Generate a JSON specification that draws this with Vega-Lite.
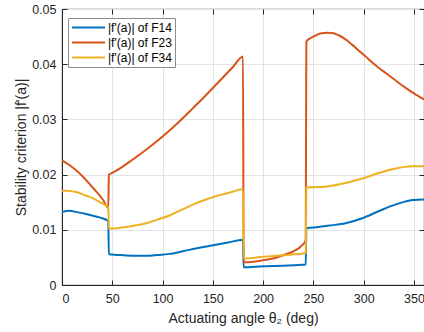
{
  "$schema": "https://vega.github.io/schema/vega-lite/v6.json",
  "width": 362,
  "height": 276,
  "autosize": {"type": "none"},
  "padding": {"left": 62, "top": 9, "right": 0, "bottom": 47},
  "background": "white",
  "config": {
    "font": "Liberation Sans",
    "view": {"stroke": "#262626", "strokeWidth": 0.8},
    "axis": {
      "domainColor": "#262626",
      "tickColor": "#262626",
      "labelColor": "#262626",
      "titleColor": "#262626",
      "gridColor": "#e3e3e3",
      "labelFontSize": 12.5,
      "titleFontSize": 14,
      "titleFontWeight": "normal",
      "tickSize": -5
    }
  },
  "data": {"values": [
    {"s": "|f'(a)| of F14", "x": 0, "y": 0.01323},
    {"s": "|f'(a)| of F14", "x": 7, "y": 0.01345},
    {"s": "|f'(a)| of F14", "x": 15, "y": 0.0132},
    {"s": "|f'(a)| of F14", "x": 24, "y": 0.01287},
    {"s": "|f'(a)| of F14", "x": 31, "y": 0.01255},
    {"s": "|f'(a)| of F14", "x": 38, "y": 0.0122},
    {"s": "|f'(a)| of F14", "x": 46, "y": 0.0116},
    {"s": "|f'(a)| of F14", "x": 46.6, "y": 0.00557},
    {"s": "|f'(a)| of F14", "x": 55, "y": 0.00545},
    {"s": "|f'(a)| of F14", "x": 64, "y": 0.00533},
    {"s": "|f'(a)| of F14", "x": 74, "y": 0.00528},
    {"s": "|f'(a)| of F14", "x": 84, "y": 0.00528},
    {"s": "|f'(a)| of F14", "x": 95, "y": 0.00542},
    {"s": "|f'(a)| of F14", "x": 107, "y": 0.00564},
    {"s": "|f'(a)| of F14", "x": 120, "y": 0.0061},
    {"s": "|f'(a)| of F14", "x": 133, "y": 0.00662},
    {"s": "|f'(a)| of F14", "x": 150, "y": 0.00722},
    {"s": "|f'(a)| of F14", "x": 165, "y": 0.0077},
    {"s": "|f'(a)| of F14", "x": 180, "y": 0.0082},
    {"s": "|f'(a)| of F14", "x": 180.6, "y": 0.0032},
    {"s": "|f'(a)| of F14", "x": 200, "y": 0.0034},
    {"s": "|f'(a)| of F14", "x": 220, "y": 0.0035},
    {"s": "|f'(a)| of F14", "x": 242.4, "y": 0.0037},
    {"s": "|f'(a)| of F14", "x": 243, "y": 0.0103},
    {"s": "|f'(a)| of F14", "x": 255, "y": 0.0105},
    {"s": "|f'(a)| of F14", "x": 265.6, "y": 0.01077},
    {"s": "|f'(a)| of F14", "x": 282, "y": 0.0112},
    {"s": "|f'(a)| of F14", "x": 298.7, "y": 0.0121},
    {"s": "|f'(a)| of F14", "x": 315.3, "y": 0.0134},
    {"s": "|f'(a)| of F14", "x": 332, "y": 0.0146},
    {"s": "|f'(a)| of F14", "x": 341, "y": 0.0151},
    {"s": "|f'(a)| of F14", "x": 348.3, "y": 0.0154},
    {"s": "|f'(a)| of F14", "x": 360, "y": 0.0155},

    {"s": "|f'(a)| of F23", "x": 0, "y": 0.02257},
    {"s": "|f'(a)| of F23", "x": 9, "y": 0.0215},
    {"s": "|f'(a)| of F23", "x": 17.6, "y": 0.0202},
    {"s": "|f'(a)| of F23", "x": 24, "y": 0.0190},
    {"s": "|f'(a)| of F23", "x": 30.8, "y": 0.0176},
    {"s": "|f'(a)| of F23", "x": 40.8, "y": 0.01544},
    {"s": "|f'(a)| of F23", "x": 46, "y": 0.0139},
    {"s": "|f'(a)| of F23", "x": 46.6, "y": 0.0200},
    {"s": "|f'(a)| of F23", "x": 50, "y": 0.0203},
    {"s": "|f'(a)| of F23", "x": 60, "y": 0.0214},
    {"s": "|f'(a)| of F23", "x": 70, "y": 0.0227},
    {"s": "|f'(a)| of F23", "x": 80, "y": 0.0240},
    {"s": "|f'(a)| of F23", "x": 90, "y": 0.0254},
    {"s": "|f'(a)| of F23", "x": 100, "y": 0.0269},
    {"s": "|f'(a)| of F23", "x": 110, "y": 0.0285},
    {"s": "|f'(a)| of F23", "x": 120, "y": 0.0302},
    {"s": "|f'(a)| of F23", "x": 130, "y": 0.0320},
    {"s": "|f'(a)| of F23", "x": 140, "y": 0.0338},
    {"s": "|f'(a)| of F23", "x": 150, "y": 0.0357},
    {"s": "|f'(a)| of F23", "x": 160, "y": 0.0376},
    {"s": "|f'(a)| of F23", "x": 170, "y": 0.0395},
    {"s": "|f'(a)| of F23", "x": 180, "y": 0.0414},
    {"s": "|f'(a)| of F23", "x": 180.6, "y": 0.0041},
    {"s": "|f'(a)| of F23", "x": 190, "y": 0.0042},
    {"s": "|f'(a)| of F23", "x": 200, "y": 0.0045},
    {"s": "|f'(a)| of F23", "x": 210, "y": 0.0048},
    {"s": "|f'(a)| of F23", "x": 220, "y": 0.0054},
    {"s": "|f'(a)| of F23", "x": 230, "y": 0.0061},
    {"s": "|f'(a)| of F23", "x": 237, "y": 0.0069},
    {"s": "|f'(a)| of F23", "x": 242.4, "y": 0.0081},
    {"s": "|f'(a)| of F23", "x": 243, "y": 0.0441},
    {"s": "|f'(a)| of F23", "x": 247, "y": 0.0447},
    {"s": "|f'(a)| of F23", "x": 252.4, "y": 0.0452},
    {"s": "|f'(a)| of F23", "x": 258, "y": 0.0456},
    {"s": "|f'(a)| of F23", "x": 264, "y": 0.0457},
    {"s": "|f'(a)| of F23", "x": 270, "y": 0.0456},
    {"s": "|f'(a)| of F23", "x": 275.6, "y": 0.0452},
    {"s": "|f'(a)| of F23", "x": 282, "y": 0.0445},
    {"s": "|f'(a)| of F23", "x": 288.8, "y": 0.0435},
    {"s": "|f'(a)| of F23", "x": 295, "y": 0.0425},
    {"s": "|f'(a)| of F23", "x": 302, "y": 0.0414},
    {"s": "|f'(a)| of F23", "x": 308.5, "y": 0.0403},
    {"s": "|f'(a)| of F23", "x": 315.3, "y": 0.0393},
    {"s": "|f'(a)| of F23", "x": 321.9, "y": 0.0384},
    {"s": "|f'(a)| of F23", "x": 328.5, "y": 0.0375},
    {"s": "|f'(a)| of F23", "x": 335, "y": 0.0366},
    {"s": "|f'(a)| of F23", "x": 341.8, "y": 0.0357},
    {"s": "|f'(a)| of F23", "x": 350, "y": 0.0347},
    {"s": "|f'(a)| of F23", "x": 360, "y": 0.0336},

    {"s": "|f'(a)| of F34", "x": 0, "y": 0.01706},
    {"s": "|f'(a)| of F34", "x": 7, "y": 0.01705},
    {"s": "|f'(a)| of F34", "x": 15, "y": 0.0168},
    {"s": "|f'(a)| of F34", "x": 24, "y": 0.01616},
    {"s": "|f'(a)| of F34", "x": 31, "y": 0.0157},
    {"s": "|f'(a)| of F34", "x": 37.5, "y": 0.0150},
    {"s": "|f'(a)| of F34", "x": 46, "y": 0.0140},
    {"s": "|f'(a)| of F34", "x": 46.6, "y": 0.01018},
    {"s": "|f'(a)| of F34", "x": 55, "y": 0.0103},
    {"s": "|f'(a)| of F34", "x": 64, "y": 0.0105},
    {"s": "|f'(a)| of F34", "x": 74, "y": 0.01082},
    {"s": "|f'(a)| of F34", "x": 84, "y": 0.0112},
    {"s": "|f'(a)| of F34", "x": 95, "y": 0.01185},
    {"s": "|f'(a)| of F34", "x": 107, "y": 0.0126},
    {"s": "|f'(a)| of F34", "x": 120, "y": 0.0137},
    {"s": "|f'(a)| of F34", "x": 133, "y": 0.0148},
    {"s": "|f'(a)| of F34", "x": 145, "y": 0.0156},
    {"s": "|f'(a)| of F34", "x": 157, "y": 0.0163},
    {"s": "|f'(a)| of F34", "x": 168, "y": 0.0168},
    {"s": "|f'(a)| of F34", "x": 180, "y": 0.0174},
    {"s": "|f'(a)| of F34", "x": 180.6, "y": 0.0048},
    {"s": "|f'(a)| of F34", "x": 200, "y": 0.0051},
    {"s": "|f'(a)| of F34", "x": 220, "y": 0.0054},
    {"s": "|f'(a)| of F34", "x": 242.4, "y": 0.0058},
    {"s": "|f'(a)| of F34", "x": 243, "y": 0.01767},
    {"s": "|f'(a)| of F34", "x": 255, "y": 0.01775},
    {"s": "|f'(a)| of F34", "x": 265.6, "y": 0.0179},
    {"s": "|f'(a)| of F34", "x": 282, "y": 0.01849},
    {"s": "|f'(a)| of F34", "x": 298.7, "y": 0.01928},
    {"s": "|f'(a)| of F34", "x": 315.3, "y": 0.0203},
    {"s": "|f'(a)| of F34", "x": 332, "y": 0.0211},
    {"s": "|f'(a)| of F34", "x": 341, "y": 0.0214},
    {"s": "|f'(a)| of F34", "x": 348.3, "y": 0.0215},
    {"s": "|f'(a)| of F34", "x": 360, "y": 0.0215}
  ]},
  "layer": [
    {
      "mark": {"type": "line", "strokeWidth": 2, "clip": true, "interpolate": "monotone"},
      "encoding": {
        "x": {
          "field": "x", "type": "quantitative",
          "scale": {"domain": [0, 360], "nice": false},
          "axis": {"values": [0, 50, 100, 150, 200, 250, 300, 350], "title": "Actuating angle θ₂ (deg)", "titlePadding": 7, "labelPadding": 12}
        },
        "y": {
          "field": "y", "type": "quantitative",
          "scale": {"domain": [0, 0.05], "nice": false},
          "axis": {"values": [0, 0.01, 0.02, 0.03, 0.04, 0.05], "format": "~g", "title": "Stability criterion |f'(a)|", "titlePadding": 3, "labelPadding": 11}
        },
        "color": {
          "field": "s", "type": "nominal",
          "scale": {"domain": ["|f'(a)| of F14", "|f'(a)| of F23", "|f'(a)| of F34"], "range": ["#0072BD", "#D95319", "#EDB120"]},
          "legend": {
            "title": null,
            "orient": "none",
            "legendX": 6,
            "legendY": 9,
            "fillColor": "white",
            "strokeColor": "#8c8c8c",
            "padding": 3,
            "symbolType": "M-1,0H5",
            "symbolSize": 121,
            "symbolStrokeWidth": 2,
            "labelFontSize": 12,
            "labelColor": "#000000",
            "labelOffset": 24,
            "rowPadding": 2
          }
        }
      }
    },
    {
      "mark": {"type": "point", "opacity": 0},
      "encoding": {
        "x": {
          "field": "x", "type": "quantitative",
          "axis": {"orient": "top", "values": [0, 50, 100, 150, 200, 250, 300, 350], "labels": false, "title": null, "grid": false, "domain": false}
        },
        "y": {
          "field": "y", "type": "quantitative",
          "axis": {"orient": "right", "values": [0, 0.01, 0.02, 0.03, 0.04, 0.05], "labels": false, "title": null, "grid": false, "domain": false}
        }
      }
    }
  ],
  "resolve": {"axis": {"x": "independent", "y": "independent"}}
}
